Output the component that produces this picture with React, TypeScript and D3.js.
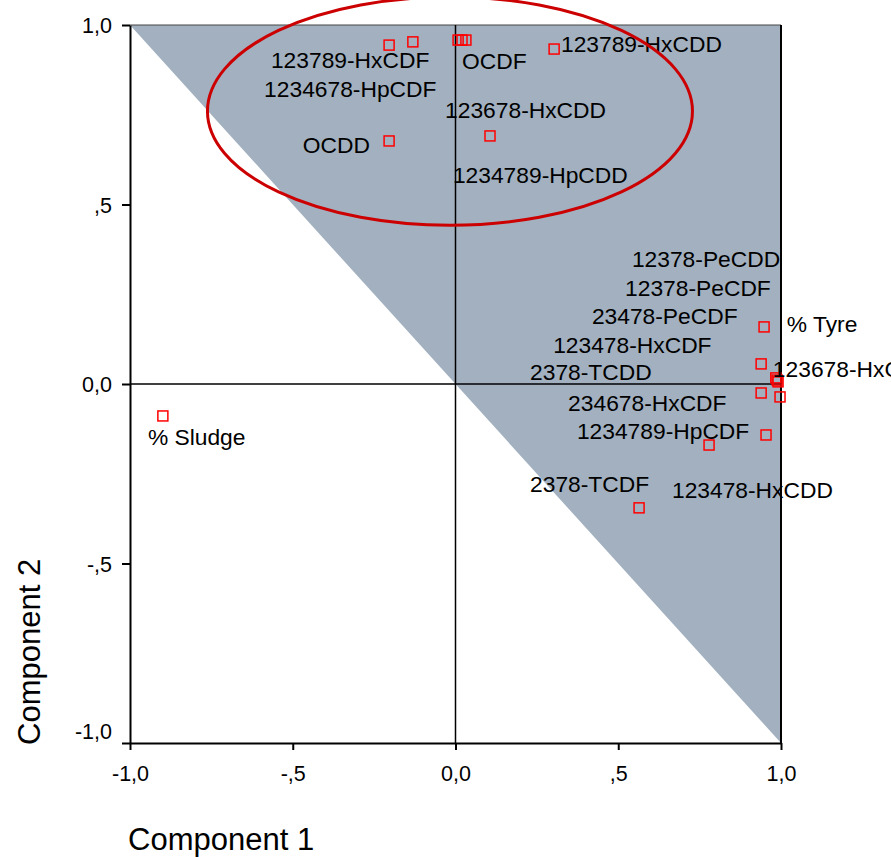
import React, { useEffect, useRef } from 'react'
import * as d3 from 'd3'

// component loadings
const loadings = [
    { c1: -0.204, c2: 0.944 },
    { c1: -0.131, c2: 0.953 },
    { c1: 0.008, c2: 0.958 },
    { c1: 0.020, c2: 0.958 },
    { c1: 0.032, c2: 0.958 },
    { c1: 0.303, c2: 0.933 },
    { c1: -0.204, c2: 0.677 },
    { c1: 0.106, c2: 0.691 },
    { c1: 0.948, c2: 0.159 },
    { c1: 0.939, c2: 0.056 },
    { c1: 0.984, c2: 0.017 },
    { c1: 0.988, c2: 0.011 },
    { c1: 0.991, c2: 0.006 },
    { c1: 0.939, c2: -0.025 },
    { c1: 0.997, c2: -0.036 },
    { c1: 0.954, c2: -0.142 },
    { c1: 0.779, c2: -0.170 },
    { c1: 0.564, c2: -0.345 },
    { c1: -0.899, c2: -0.089 },
]

// label anchors (left, baseline) in component units
const pointLabels = [
    { text: '123789-HxCDF', c1: -0.567, c2: 0.880 },
    { text: '1234678-HpCDF', c1: -0.588, c2: 0.799 },
    { text: 'OCDF', c1: 0.020, c2: 0.877 },
    { text: '123789-HxCDD', c1: 0.324, c2: 0.925 },
    { text: '123678-HxCDD', c1: -0.032, c2: 0.741 },
    { text: 'OCDD', c1: -0.469, c2: 0.643 },
    { text: '1234789-HpCDD', c1: -0.008, c2: 0.560 },
    { text: '12378-PeCDD', c1: 0.542, c2: 0.326 },
    { text: '12378-PeCDF', c1: 0.521, c2: 0.245 },
    { text: '23478-PeCDF', c1: 0.419, c2: 0.167 },
    { text: '% Tyre', c1: 1.018, c2: 0.145 },
    { text: '123478-HxCDF', c1: 0.300, c2: 0.086 },
    { text: '123678-HxCDF', c1: 0.975, c2: 0.019 },
    { text: '2378-TCDD', c1: 0.229, c2: 0.011 },
    { text: '234678-HxCDF', c1: 0.346, c2: -0.075 },
    { text: '1234789-HpCDF', c1: 0.373, c2: -0.153 },
    { text: '2378-TCDF', c1: 0.229, c2: -0.301 },
    { text: '123478-HxCDD', c1: 0.665, c2: -0.318 },
    { text: '% Sludge', c1: -0.945, c2: -0.170 },
]

const tickValues = [-1, -0.5, 0, 0.5, 1]
const tickLabels = ['-1,0', '-,5', '0,0', ',5', '1,0']

// shaded triangle and the hand-drawn ellipse, in component units
const shade = [[-1, 1], [1, 1], [1, -1]]
const ellipse = { c1: -0.017, c2: 0.76, r1: 0.745, r2: 0.318 }

const FONT = "'Liberation Sans', Arial, sans-serif"

function App() {
    const ref = useRef<SVGSVGElement>(null)

    useEffect(() => {
        const svg = d3.select(ref.current)
        svg.selectAll('*').remove()

        const x = d3.scaleLinear().domain([-1, 1]).range([130, 781])
        const y = d3.scaleLinear().domain([-1, 1]).range([743, 25])

        svg.append('polygon')
            .attr('points', shade.map(p => x(p[0]) + ',' + y(p[1])).join(' '))
            .attr('fill', '#a2b0bf')

        // frame top and right
        svg.append('line')
            .attr('x1', x(-1)).attr('x2', x(1))
            .attr('y1', y(1)).attr('y2', y(1))
            .attr('stroke', '#444').attr('stroke-width', 1)
        svg.append('line')
            .attr('x1', x(1)).attr('x2', x(1))
            .attr('y1', y(1)).attr('y2', y(-1))
            .attr('stroke', '#000').attr('stroke-width', 2)

        // zero reference lines
        svg.append('line')
            .attr('x1', x(0)).attr('x2', x(0))
            .attr('y1', y(1)).attr('y2', y(-1))
            .attr('stroke', '#000').attr('stroke-width', 1.5)
        svg.append('line')
            .attr('x1', x(-1)).attr('x2', x(1))
            .attr('y1', y(0)).attr('y2', y(0))
            .attr('stroke', '#000').attr('stroke-width', 1.5)

        svg.selectAll('.pt')
            .data(loadings)
            .enter().append('rect')
            .attr('class', 'pt')
            .attr('x', d => x(d.c1) - 5)
            .attr('y', d => y(d.c2) - 5)
            .attr('width', 10)
            .attr('height', 10)
            .attr('fill', 'none')
            .attr('stroke', '#ff0000')
            .attr('stroke-width', 1.5)

        svg.selectAll('.lbl')
            .data(pointLabels)
            .enter().append('text')
            .attr('class', 'lbl')
            .attr('x', d => x(d.c1))
            .attr('y', d => y(d.c2))
            .style('font-family', FONT)
            .style('font-size', '22.8px')
            .style('fill', '#000')
            .text(d => d.text)

        svg.append('ellipse')
            .attr('cx', x(ellipse.c1))
            .attr('cy', y(ellipse.c2))
            .attr('rx', x(ellipse.r1) - x(0))
            .attr('ry', y(0) - y(ellipse.r2))
            .attr('fill', 'none')
            .attr('stroke', '#cc0000')
            .attr('stroke-width', 3)

        const xAxis = d3.axisBottom(x)
            .tickValues(tickValues)
            .tickSize(7)
            .tickSizeOuter(0)
            .tickPadding(16)
            .tickFormat((d, i) => tickLabels[i])
        const yAxis = d3.axisLeft(y)
            .tickValues(tickValues)
            .tickSize(8)
            .tickSizeOuter(0)
            .tickPadding(10)
            .tickFormat((d, i) => tickLabels[i])

        const gx = svg.append('g')
            .attr('transform', 'translate(0,' + y(-1) + ')')
            .call(xAxis)
        gx.selectAll('text')
            .style('font-family', FONT)
            .style('font-size', '21.5px')
            .style('fill', '#000')
        gx.selectAll('path, line').attr('stroke', '#000').attr('stroke-width', 2)

        const gy = svg.append('g')
            .attr('transform', 'translate(' + x(-1) + ',0)')
            .call(yAxis)
        gy.selectAll('text')
            .style('font-family', FONT)
            .style('font-size', '21.5px')
            .style('fill', '#000')
            .attr('dy', (d) => (d === -1 ? '-0.2em' : '0.35em'))
        gy.selectAll('path, line').attr('stroke', '#000').attr('stroke-width', 2)

        svg.append('text')
            .attr('x', 128)
            .attr('y', 850)
            .style('font-family', FONT)
            .style('font-size', '31px')
            .style('fill', '#000')
            .text('Component 1')

        svg.append('text')
            .attr('transform', 'translate(40,745) rotate(-90)')
            .style('font-family', FONT)
            .style('font-size', '31px')
            .style('fill', '#000')
            .text('Component 2')
    }, [])

    return (
        <svg
            ref={ref}
            width={891}
            height={857}
            style={{ position: 'absolute', left: 0, top: 0, background: '#fff' }}
        />
    )
}

export default App
